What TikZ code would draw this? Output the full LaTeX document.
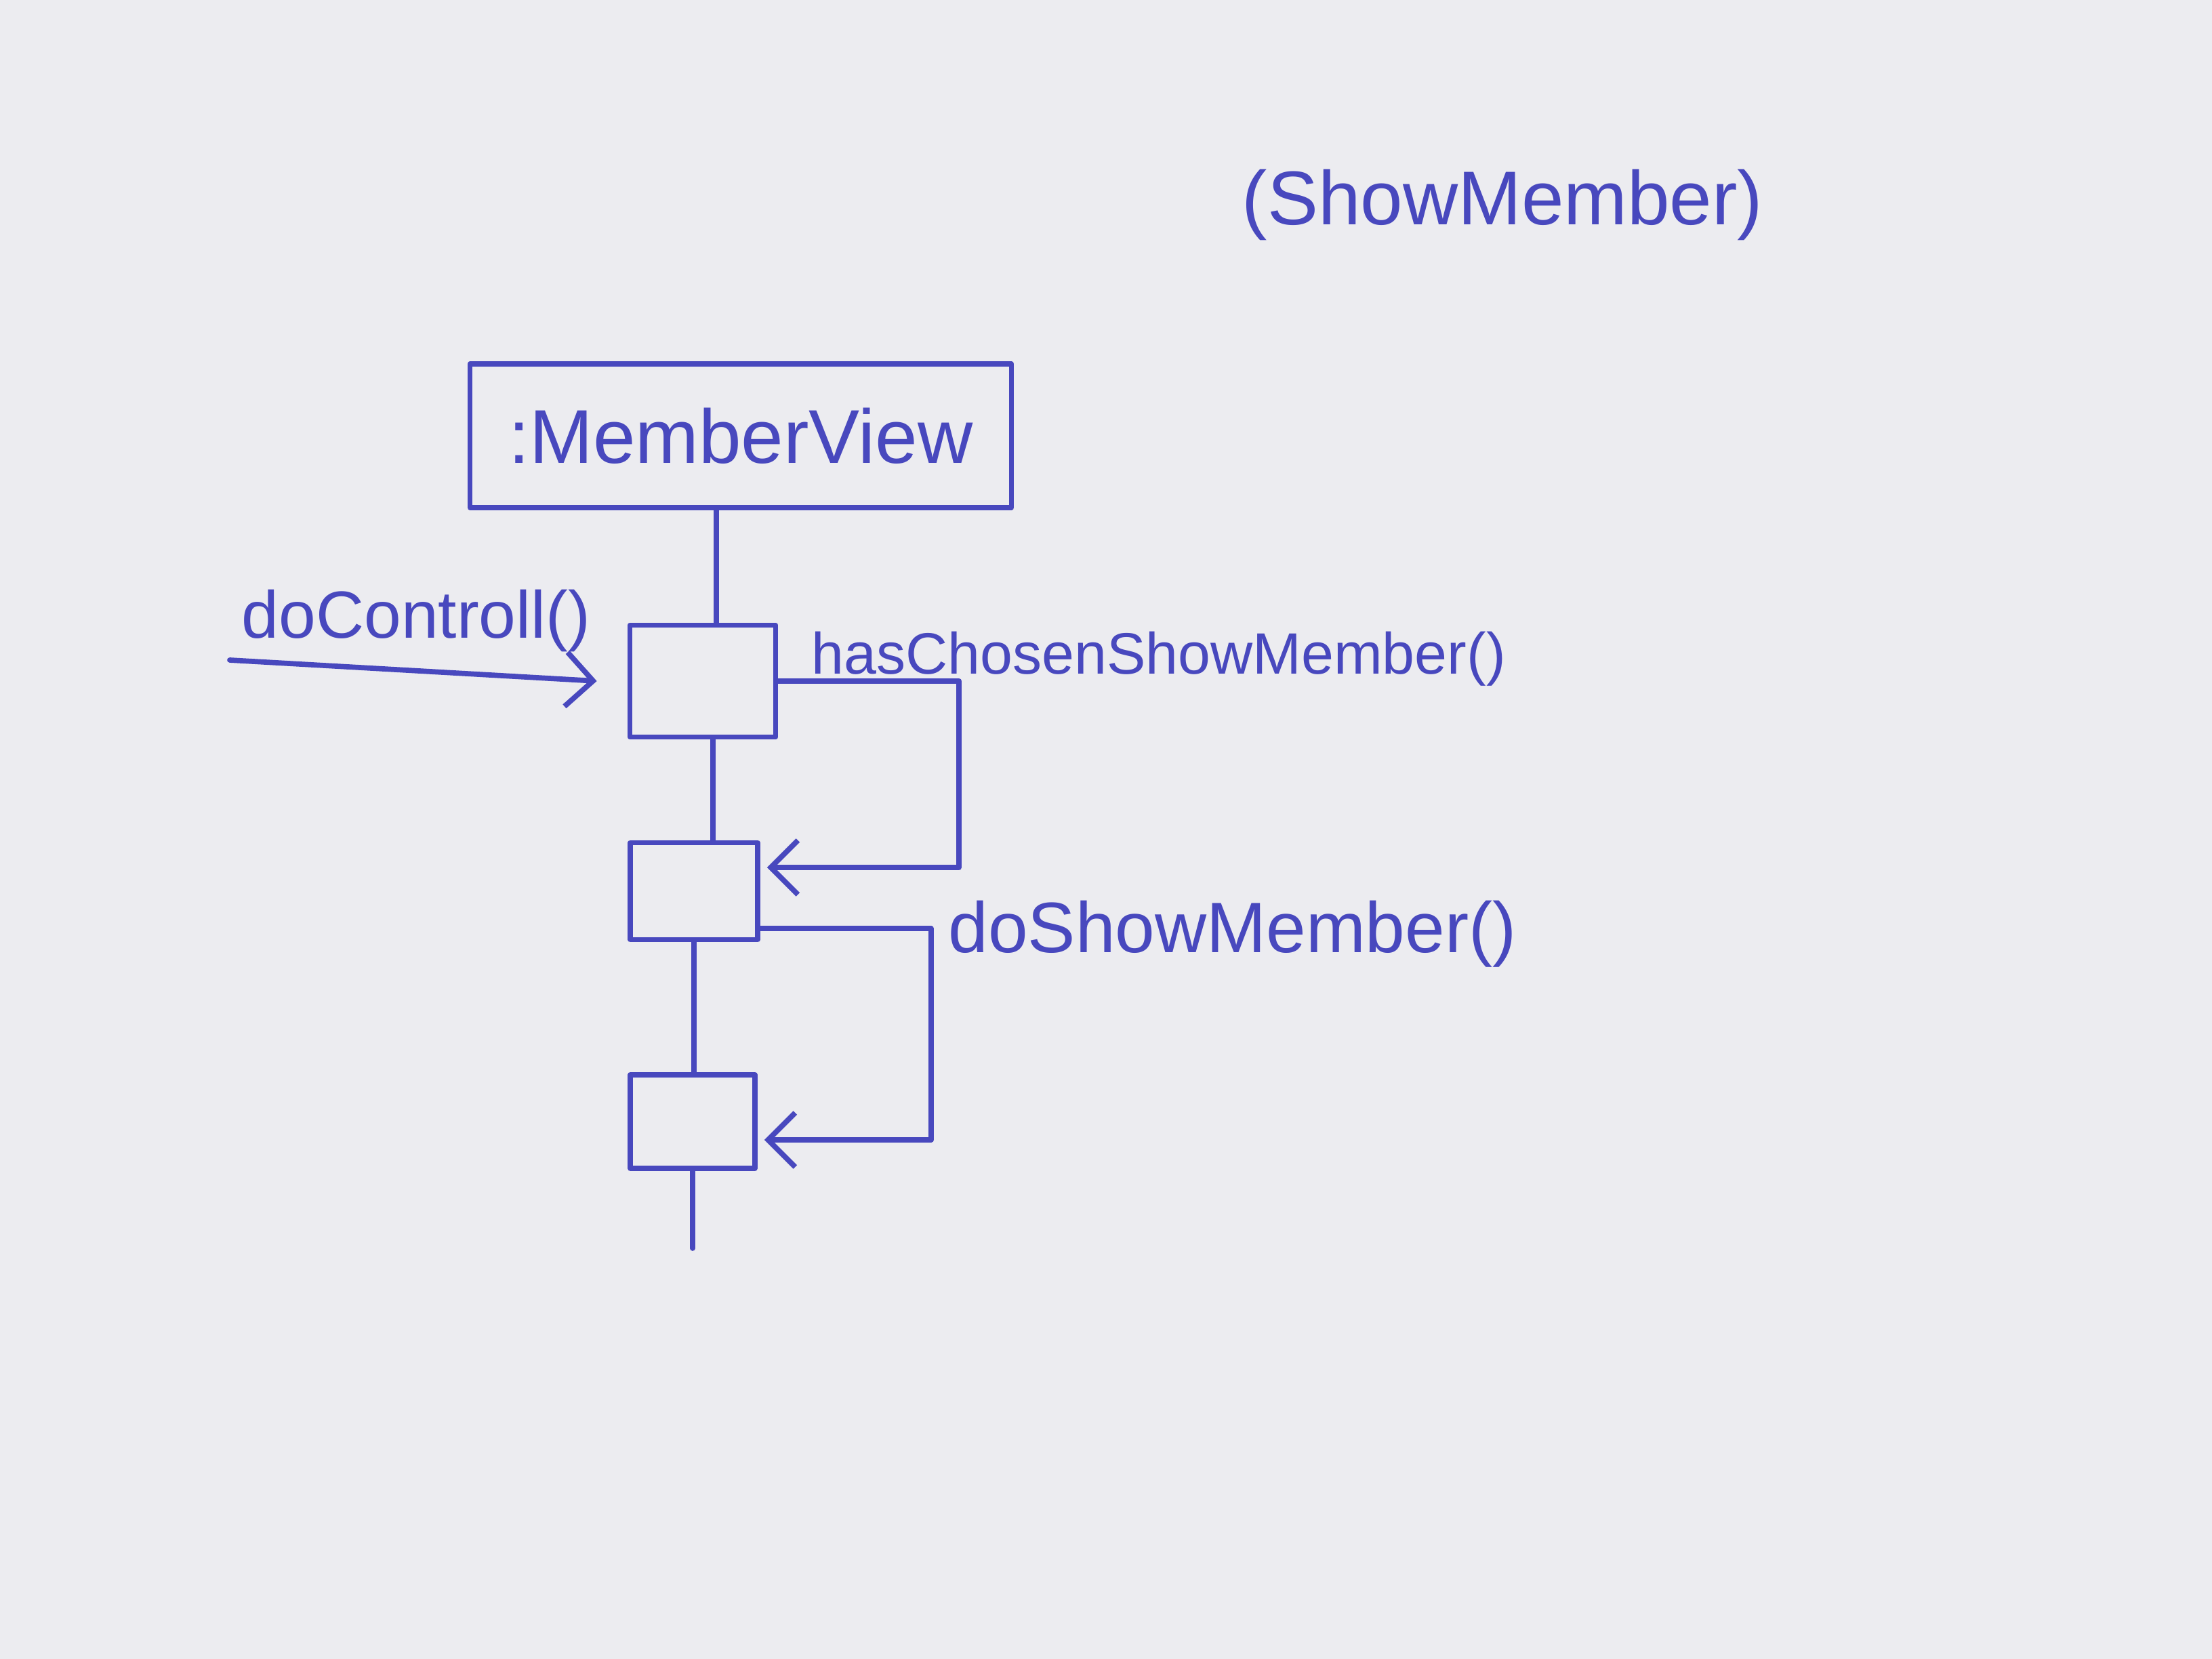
\documentclass[tikz,border=0pt]{standalone}
\usepackage{fontspec}
\setmainfont{Liberation Sans}
\usetikzlibrary{arrows.meta}
\definecolor{ink}{RGB}{72,72,190}
\definecolor{paper}{RGB}{236,236,240}
\begin{document}
\begin{tikzpicture}[ink/.style={draw=ink,line width=2.2pt,line cap=round,line join=round},
		msg/.style={ink,-{Straight Barb[length=4mm,width=8mm,line width=2.2pt]}},
		lbl/.style={text=ink,inner sep=0pt,font=\fontsize{28}{32}\selectfont},
		act/.style={ink,rectangle,inner sep=0pt}]
			\fill[paper] (0,0) rectangle (32.64,-24.48);
			\useasboundingbox (0,0) rectangle (32.64,-24.48);
			\node[lbl,font=\fontsize{32}{36}\selectfont] (title) at (22.17,-3.02) {(ShowMember)};
			\node[ink,rectangle,minimum width=7.99cm,minimum height=2.12cm,lbl,font=\fontsize{32}{36}\selectfont] (mv) at (10.93,-6.43) {:MemberView};
			\node[act,minimum width=2.15cm,minimum height=1.65cm] (a1) at (10.37,-10.05) {};
			\node[act,minimum width=1.88cm,minimum height=1.43cm] (a2) at (10.24,-13.15) {};
			\node[act,minimum width=1.84cm,minimum height=1.38cm] (a3) at (10.22,-16.55) {};
			\coordinate (lend) at (10.35,-18.42);
			\coordinate (src) at (3.39,-9.74);
			\coordinate (r1) at (14.15,-11.5);
			\coordinate (r2) at (13.74,-15);
			% lifeline
			\draw[ink] ([xshift=0.2cm]mv.south -| a1.north) -- ([xshift=0.2cm]a1.north);
			\draw[ink] ([xshift=0.15cm]a1.south) -- ([xshift=0.15cm]a1.south |- a2.north);
			\draw[ink] (a2.south) -- (a2.south |- a3.north);
			\draw[ink] (a3.south) -- (a3.south |- lend);
			% messages
			\draw[msg] (src) -- ([xshift=-0.45cm]a1.west);
			\node[lbl] (m0) at (6.14,-9.16) {doControll()};
			\draw[msg] (a1.east) -| (r1) |- ([xshift=0.1cm,yshift=0.35cm]a2.east);
			\node[lbl,anchor=west,font=\fontsize{24.5}{28}\selectfont] (m1) at (11.97,-9.72) {hasChosenShowMember()};
			\draw[msg] ([yshift=-0.55cm]a2.east) -| (r2) |- ([xshift=0.1cm,yshift=-0.27cm]a3.east);
			\node[lbl,anchor=west,font=\fontsize{30}{34}\selectfont] (m2) at (13.99,-13.78) {doShowMember()};
		\end{tikzpicture}
\end{document}
